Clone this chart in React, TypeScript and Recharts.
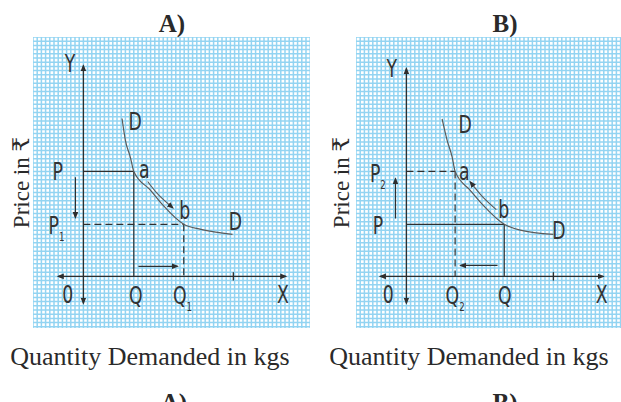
import React from 'react';
import { LineChart, Line, XAxis, YAxis, CartesianGrid, ReferenceDot } from 'recharts';

type Pt = { x: number; y: number };

// ---------- Panel A (price falls, quantity rises) ----------
const curveA: Pt[] = [
  { x: 9.2, y: 37.6 }, { x: 10, y: 32.4 }, { x: 11.2, y: 28.3 }, { x: 12, y: 25 },
  { x: 16, y: 20.5 }, { x: 19, y: 16.9 }, { x: 23.9, y: 12.4 }, { x: 28, y: 11.2 }, { x: 35.5, y: 10 },
];
const arcArrowA: Pt[] = [{ x: 15.3, y: 22.6 }, { x: 17.9, y: 19.4 }, { x: 21.3, y: 16.3 }];
const priceA = 25;
const price1A = 12.4;
const qtyA = 12;
const qty1A = 23.9;
const xAxisA: Pt[] = [{ x: -6, y: 0 }, { x: 48.2, y: 0 }];
const yAxisA: Pt[] = [{ x: 0, y: -6.4 }, { x: 0, y: 50.2 }];
const tickA: Pt[] = [{ x: 35.7, y: -1 }, { x: 35.7, y: 1 }];
const downArrowA: Pt[] = [{ x: -1.9, y: 23.6 }, { x: -1.9, y: 14 }];
const rightArrowA: Pt[] = [{ x: 13.1, y: 2.4 }, { x: 22.4, y: 2.4 }];
const labelsA = [
  { x: -3.2, y: 50.7, t: 'Y' },
  { x: 12.3, y: 37, t: 'D' },
  { x: -6.1, y: 24.9, t: 'P' },
  { x: 14.5, y: 25.4, t: 'a' },
  { x: 24.1, y: 15.8, t: 'b' },
  { x: -6.4, y: 12.1, t: 'P', s: '1' },
  { x: 36.2, y: 13, t: 'D' },
  { x: -3.7, y: -4.3, t: '0' },
  { x: 12.5, y: -4.5, t: 'Q' },
  { x: 23.6, y: -4.5, t: 'Q', s: '1' },
  { x: 47.5, y: -4.3, t: 'X' },
];

// ---------- Panel B (price rises, quantity falls) ----------
const curveB: Pt[] = [
  { x: 8.5, y: 37.5 }, { x: 9.7, y: 32.4 }, { x: 10.9, y: 28.4 }, { x: 11.6, y: 25 },
  { x: 15.2, y: 20.5 }, { x: 18.3, y: 16.9 }, { x: 23.3, y: 12.4 }, { x: 27.1, y: 11 }, { x: 35, y: 10 },
];
const arcArrowB: Pt[] = [{ x: 21.4, y: 15.9 }, { x: 18.1, y: 19 }, { x: 15.2, y: 22.5 }];
const price2B = 25;
const priceB = 12.4;
const qty2B = 11.6;
const qtyB = 23.3;
const xAxisB: Pt[] = [{ x: -6.2, y: 0 }, { x: 46.9, y: 0 }];
const yAxisB: Pt[] = [{ x: 0, y: -6.4 }, { x: 0, y: 49.5 }];
const tickB: Pt[] = [{ x: 35, y: -1 }, { x: 35, y: 1 }];
const upArrowB: Pt[] = [{ x: -2.6, y: 13.8 }, { x: -2.6, y: 23.3 }];
const leftArrowB: Pt[] = [{ x: 21.7, y: 2.6 }, { x: 12.9, y: 2.6 }];
const labelsB = [
  { x: -3.5, y: 49.6, t: 'Y' },
  { x: 14, y: 36.3, t: 'D' },
  { x: -6.8, y: 24.6, t: 'P', s: '2' },
  { x: 13.8, y: 25, t: 'a' },
  { x: 23.2, y: 15.9, t: 'b' },
  { x: -6.8, y: 12.1, t: 'P' },
  { x: 36.3, y: 11, t: 'D' },
  { x: -4.3, y: -4.3, t: '0' },
  { x: 11.6, y: -4.5, t: 'Q', s: '2' },
  { x: 23.4, y: -4.5, t: 'Q' },
  { x: 46.5, y: -4.3, t: 'X' },
];

const UNIT = 4.2; // px per grid cell
const yDomain: [number, number] = [-12.5, 57];
const xDomainA: [number, number] = [-12, 54];
const xDomainB: [number, number] = [-12, 51.5];

const INK = '#2e2e2e';
const CURVE = '#5a5a5a';
const GRID = '#93d4f2';
const LABEL_FONT = "'Liberation Sans Narrow', 'DejaVu Sans Condensed', 'Roboto Condensed', 'Liberation Sans', sans-serif";
const SERIF = "'Liberation Serif', 'DejaVu Serif', serif";

function intTicks([a, b]: [number, number]) {
  const out: number[] = [];
  for (let v = Math.ceil(a); v <= Math.floor(b); v++) out.push(v);
  return out;
}

function applyScale(axis: any, v: number): number {
  const s = axis && axis.scale;
  if (!s) return NaN;
  if (typeof s === 'function') return s(v);
  if (typeof s.map === 'function') return s.map(v);
  return NaN;
}

type Seg = { pts: Pt[]; dash?: boolean; start?: boolean; end?: boolean; color?: string; w?: number; type?: any };

function Panel({ id, xDomain, segs, labels }: { id: string; xDomain: [number, number]; segs: Seg[]; labels: any[] }) {
  const w = (xDomain[1] - xDomain[0]) * UNIT;
  const h = (yDomain[1] - yDomain[0]) * UNIT;
  const mk = `arrow-${id}`;
  const xt = intTicks(xDomain);
  const yt = intTicks(yDomain);
  return (
    <LineChart width={w} height={h} margin={{ top: 0, right: 0, bottom: 0, left: 0 }}>
      <defs>
        <marker id={mk} viewBox="0 0 10 10" refX="8" refY="5" markerWidth="7" markerHeight="7"
          markerUnits="userSpaceOnUse" orient="auto-start-reverse">
          <path d="M0,1 L10,5 L0,9 z" fill={INK} />
        </marker>
      </defs>
      <XAxis type="number" dataKey="x" domain={xDomain} ticks={xt} interval={0} hide allowDataOverflow />
      <YAxis type="number" dataKey="y" domain={yDomain} ticks={yt} interval={0} hide allowDataOverflow />
      <CartesianGrid stroke={GRID} strokeWidth={1.5}
        verticalCoordinatesGenerator={({ xAxis }: any) => xt.map((t) => applyScale(xAxis, t)).filter((v) => isFinite(v))}
        horizontalCoordinatesGenerator={({ yAxis }: any) => yt.map((t) => applyScale(yAxis, t)).filter((v) => isFinite(v))} />
      {segs.map((s, i) => (
        <Line key={i} data={s.pts} dataKey="y" type={s.type || 'linear'} isAnimationActive={false}
          dot={false} activeDot={false} stroke={s.color || INK} strokeWidth={s.w || 1.2}
          strokeDasharray={s.dash ? '7 4' : undefined}
          markerStart={s.start ? `url(#${mk})` : undefined}
          markerEnd={s.end ? `url(#${mk})` : undefined} />
      ))}
      {labels.map((l, i) => (
        <ReferenceDot key={`l${i}`} x={l.x} y={l.y} r={0} ifOverflow="visible"
          shape={(p: any) => (
            <text transform={`translate(${p.cx} ${p.cy}) scale(0.8 1)`} x={0} y={0} dy="0.36em"
              textAnchor="middle" fontFamily={LABEL_FONT} fontSize={24} fill="#333">
              {l.t}
              {l.s ? <tspan fontSize={12} dy={7}>{l.s}</tspan> : null}
            </text>
          )} />
      ))}
    </LineChart>
  );
}

const segsA: Seg[] = [
  { pts: xAxisA, start: true, end: true, w: 1.3 },
  { pts: yAxisA, start: true, end: true, w: 1.3 },
  { pts: tickA, w: 1.3 },
  { pts: [{ x: 0, y: priceA }, { x: qtyA, y: priceA }] },
  { pts: [{ x: qtyA, y: priceA }, { x: qtyA, y: 0 }] },
  { pts: [{ x: 0, y: price1A }, { x: qty1A, y: price1A }], dash: true },
  { pts: [{ x: qty1A, y: price1A }, { x: qty1A, y: 0 }], dash: true },
  { pts: downArrowA, end: true },
  { pts: rightArrowA, end: true },
  { pts: curveA, type: 'monotone', color: CURVE, w: 1.2 },
  { pts: arcArrowA, type: 'natural', color: CURVE, w: 1.1, end: true },
];

const segsB: Seg[] = [
  { pts: xAxisB, start: true, end: true, w: 1.3 },
  { pts: yAxisB, start: true, end: true, w: 1.3 },
  { pts: tickB, w: 1.3 },
  { pts: [{ x: 0, y: price2B }, { x: qty2B, y: price2B }], dash: true },
  { pts: [{ x: qty2B, y: price2B }, { x: qty2B, y: 0 }], dash: true },
  { pts: [{ x: 0, y: priceB }, { x: qtyB, y: priceB }] },
  { pts: [{ x: qtyB, y: priceB }, { x: qtyB, y: 0 }] },
  { pts: upArrowB, end: true },
  { pts: leftArrowB, end: true },
  { pts: curveB, type: 'monotone', color: CURVE, w: 1.2 },
  { pts: arcArrowB, type: 'natural', color: CURVE, w: 1.1, end: true },
];

const titles = ['A)', 'B)'];
const xTitle = 'Quantity Demanded in kgs';
const yTitle = 'Price in ₹';

export default function App() {
  // origin of each panel's axes on the page
  const oA = { x: 83, y: 276 };
  const oB = { x: 406, y: 276 };
  return (
    <div style={{ position: 'fixed', left: 0, top: 0, width: 621, height: 402, overflow: 'hidden', background: '#fff' }}>
      <svg width={621} height={402} style={{ position: 'absolute', left: 0, top: 0 }}>
        <text x={172} y={32} textAnchor="middle" fontFamily={SERIF} fontWeight="bold" fontSize={25} fill="#2a2a2a">{titles[0]}</text>
        <text x={505} y={32} textAnchor="middle" fontFamily={SERIF} fontWeight="bold" fontSize={25} fill="#2a2a2a">{titles[1]}</text>
        <text x={150} y={365} textAnchor="middle" fontFamily={SERIF} fontSize={26} fill="#2a2a2a">{xTitle}</text>
        <text x={469} y={365} textAnchor="middle" fontFamily={SERIF} fontSize={26} fill="#2a2a2a">{xTitle}</text>
        <text x={174} y={411} textAnchor="middle" fontFamily={SERIF} fontWeight="bold" fontSize={25} fill="#2a2a2a">{titles[0]}</text>
        <text x={505} y={411} textAnchor="middle" fontFamily={SERIF} fontWeight="bold" fontSize={25} fill="#2a2a2a">{titles[1]}</text>
        <text x={21} y={182.5} transform="rotate(-90 21 182.5)" dy="0.35em" textAnchor="middle" fontFamily={SERIF} fontSize={23} fill="#2a2a2a">{yTitle}</text>
        <text x={341} y={182.5} transform="rotate(-90 341 182.5)" dy="0.35em" textAnchor="middle" fontFamily={SERIF} fontSize={23} fill="#2a2a2a">{yTitle}</text>
      </svg>
      <div style={{ position: 'absolute', left: oA.x + xDomainA[0] * UNIT, top: oA.y - yDomain[1] * UNIT }}>
        <Panel id="a" xDomain={xDomainA} segs={segsA} labels={labelsA} />
      </div>
      <div style={{ position: 'absolute', left: oB.x + xDomainB[0] * UNIT, top: oB.y - yDomain[1] * UNIT }}>
        <Panel id="b" xDomain={xDomainB} segs={segsB} labels={labelsB} />
      </div>
    </div>
  );
}
